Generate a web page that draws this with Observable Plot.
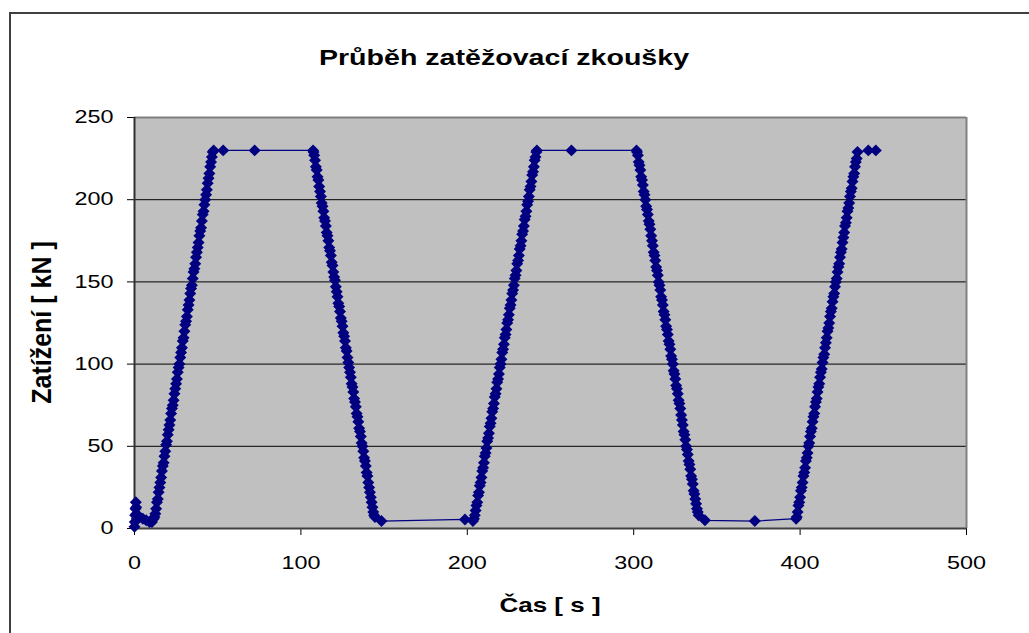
<!DOCTYPE html>
<html>
<head>
<meta charset="utf-8">
<script src="https://cdn.jsdelivr.net/npm/d3@7"></script>
<script src="https://cdn.jsdelivr.net/npm/@observablehq/plot@0.6"></script>
<style>
  html, body { margin: 0; padding: 0; background: #fff; }
  #wrap { position: relative; width: 1029px; height: 633px; overflow: hidden; background: #fff; }
  #border { position: absolute; left: 9px; top: 12px; width: 1100px; height: 700px; border: 2px solid #404040; box-sizing: border-box; }
  #chart { position: absolute; left: 0; top: 0; }
</style>
</head>
<body>
<div id="wrap"><div id="border"></div><div id="chart"></div></div>
<script>
// ---- Texts ----
const chartTitle = "Průběh zatěžovací zkoušky";
const xTitle = "Čas [ s ]";
const yTitle = "Zatížení [ kN ]";

// ---- Axis ticks ----
const xTicks = [0, 100, 200, 300, 400, 500];
const yTicks = [0, 50, 100, 150, 200, 250];
const gridY = [50, 100, 150, 200];

// ---- Series: [time s, load kN] ----
const start = [[0,1],[0.2,4],[0.4,8],[0.6,12],[0.8,16],[1.0,13],[1.2,9],[1.4,6],[5,6],[7,5],[9,4],[10.5,4],[11.5,6]];
const rise1 = [[12,7],[12.5,9],[13,12],[13.5,16],[14,18],[14.5,22],[15,25],[15.5,28],[16,31],[16.5,35],[17,38],[17.5,40],[18,44],[18.5,47],[19,51],[19.5,53],[20,57],[20.5,60],[21,63],[21.5,66],[22,70],[22.5,73],[23,75],[23.5,78],[24,82],[24.5,85],[25,88],[25.5,91],[26,95],[26.5,98],[27,100],[27.5,104],[28,107],[28.5,110],[29,114],[29.5,116],[30,120],[30.5,124],[31,126],[31.5,129],[32,133],[32.5,136],[33,139],[33.5,143],[34,146],[34.5,148],[35,152],[35.5,156],[36,158],[36.5,161],[37,165],[37.5,168],[38,171],[38.5,174],[39,178],[39.5,181],[40,183],[40.5,187],[41,191],[41.5,193],[42,197],[42.5,200],[43,203],[43.5,206],[44,210],[44.5,213],[45,216],[45.5,220],[46,223],[46.5,226],[47,229]];
const hold1 = [[47.6,230],[53.3,230],[72.2,230],[107.3,230]];
const fall1 = [[107.6,229],[108,227],[108.5,224],[109,220],[109.5,218],[110,214],[110.5,212],[111,208],[111.5,205],[112,202],[112.5,198],[113,196],[113.5,193],[114,189],[114.5,187],[115,184],[115.5,180],[116,178],[116.5,175],[117,171],[117.5,169],[118,166],[118.5,162],[119,160],[119.5,156],[120,153],[120.5,151],[121,147],[121.5,144],[122,141],[122.5,137],[123,135],[123.5,132],[124,128],[124.5,126],[125,123],[125.5,119],[126,117],[126.5,114],[127,110],[127.5,108],[128,104],[128.5,101],[129,98],[129.5,95],[130,92],[130.5,88],[131,86],[131.5,83],[132,79],[132.5,77],[133,74],[133.5,70],[134,68],[134.5,65],[135,61],[135.5,59],[136,56],[136.5,52],[137,50],[137.5,47],[138,43],[138.5,41],[139,38],[139.5,34],[140,32],[140.5,28],[141,25],[141.5,22],[142,19],[142.5,16],[143,13],[143.5,10],[144,8],[144.5,7]];
const rest1 = [[148.4,4.5],[198.6,5.5]];
const rise2 = [[203.4,4.5],[204,6],[204.5,8],[205,11],[205.5,14],[206,16],[206.5,20],[207,22],[207.5,26],[208,28],[208.5,31],[209,35],[209.5,37],[210,40],[210.5,44],[211,46],[211.5,49],[212,53],[212.5,55],[213,58],[213.5,62],[214,64],[214.5,67],[215,71],[215.5,73],[216,76],[216.5,80],[217,82],[217.5,85],[218,89],[218.5,91],[219,94],[219.5,98],[220,100],[220.5,103],[221,107],[221.5,109],[222,112],[222.5,116],[223,118],[223.5,121],[224,125],[224.5,127],[225,130],[225.5,134],[226,136],[226.5,139],[227,143],[227.5,145],[228,148],[228.5,152],[229,154],[229.5,157],[230,161],[230.5,163],[231,166],[231.5,170],[232,172],[232.5,175],[233,179],[233.5,181],[234,184],[234.5,188],[235,190],[235.5,193],[236,197],[236.5,199],[237,202],[237.5,206],[238,208],[238.5,211],[239,215],[239.5,217],[240,220],[240.5,224],[241,226],[241.5,229]];
const hold2 = [[241.8,230],[262.6,230],[301.7,230]];
const fall2 = [[302,229],[302.5,227],[303,223],[303.5,221],[304,218],[304.5,214],[305,212],[305.5,209],[306,205],[306.5,203],[307,200],[307.5,196],[308,194],[308.5,191],[309,187],[309.5,185],[310,182],[310.5,178],[311,175],[311.5,172],[312,168],[312.5,166],[313,163],[313.5,159],[314,157],[314.5,154],[315,150],[315.5,148],[316,145],[316.5,141],[317,139],[317.5,136],[318,132],[318.5,130],[319,127],[319.5,123],[320,121],[320.5,118],[321,114],[321.5,112],[322,109],[322.5,105],[323,103],[323.5,100],[324,96],[324.5,94],[325,91],[325.5,87],[326,85],[326.5,82],[327,78],[327.5,76],[328,73],[328.5,69],[329,66],[329.5,63],[330,59],[330.5,57],[331,54],[331.5,50],[332,48],[332.5,45],[333,41],[333.5,39],[334,36],[334.5,32],[335,30],[335.5,27],[336,23],[336.5,21],[337,18],[337.5,15],[338,12],[338.5,10],[339,8]];
const rest2 = [[342.8,5],[372.8,4.5],[397.6,6]];
const rise3 = [[398,7],[398.5,10],[399,14],[399.5,16],[400,19],[400.5,23],[401,25],[401.5,28],[402,32],[402.5,34],[403,37],[403.5,41],[404,43],[404.5,46],[405,50],[405.5,52],[406,56],[406.5,59],[407,61],[407.5,65],[408,68],[408.5,70],[409,74],[409.5,77],[410,79],[410.5,83],[411,86],[411.5,88],[412,92],[412.5,95],[413,97],[413.5,101],[414,104],[414.5,106],[415,110],[415.5,113],[416,116],[416.5,120],[417,122],[417.5,125],[418,129],[418.5,132],[419,134],[419.5,138],[420,141],[420.5,143],[421,147],[421.5,150],[422,152],[422.5,156],[423,159],[423.5,161],[424,165],[424.5,168],[425,170],[425.5,174],[426,177],[426.5,180],[427,184],[427.5,186],[428,189],[428.5,193],[429,195],[429.5,198],[430,202],[430.5,205],[431,207],[431.5,211],[432,214],[432.5,216],[433,220],[433.5,223],[434,225],[434.5,229]];
const hold3 = [[441,230],[445.5,230]];

const segments = [start, rise1, hold1, fall1, rest1, rise2, hold2, fall2, rest2, rise3, hold3];
const data = segments.flat().map(([t, load]) => ({t, load}));

const navy = "#000080";
const font = "'Liberation Sans', Arial, sans-serif";
const SX = 1.3; // horizontal stretch of the reference's lettering

const W = 1029, H = 633;
const mL = 134, mR = 63, mT = 117, mB = 105;

const svg = Plot.plot({
  width: W, height: H,
  marginLeft: mL, marginRight: mR, marginTop: mT, marginBottom: mB,
  style: {fontFamily: font, fontSize: "18px", color: "#000", background: "transparent", overflow: "visible"},
  x: {domain: [0, 500], ticks: xTicks, tickSize: 7, tickPadding: 21, label: null, tickFormat: d => String(d)},
  y: {domain: [0, 250], ticks: yTicks, tickSize: 7, tickPadding: 14, label: null, tickFormat: d => String(d)},
  marks: [
    Plot.frame({fill: "#c0c0c0", stroke: null}),
    Plot.ruleY(gridY, {stroke: "#000", strokeWidth: 1}),
    Plot.ruleY([250], {stroke: "#808080", strokeWidth: 2}),
    Plot.ruleX([500], {stroke: "#808080", strokeWidth: 2}),
    Plot.ruleX([0], {stroke: "#303030", strokeWidth: 2}),
    Plot.ruleY([0], {stroke: "#404040", strokeWidth: 2}),
    Plot.line(data, {x: "t", y: "load", stroke: navy, strokeWidth: 1.2}),
    Plot.dot(data, {x: "t", y: "load", symbol: "diamond2", r: 5.4, fill: navy, stroke: null})
  ]
});
document.getElementById("chart").appendChild(svg);

// stretch tick labels horizontally like the reference (keeps their anchor point)
function stretchText(el, sx) {
  const t = el.getAttribute("transform") || "";
  const xa = el.getAttribute("x");
  let pre = "";
  if (xa != null && xa !== "" && isFinite(+xa)) { pre = `translate(${+xa},0)`; el.removeAttribute("x"); }
  el.setAttribute("transform", `${t} ${pre} scale(${sx},1)`.trim());
}
svg.querySelectorAll("text").forEach(el => stretchText(el, SX));

const s = d3.select(svg);
s.append("text")
  .attr("transform", `translate(504,65) scale(${SX},1)`)
  .attr("text-anchor", "middle")
  .style("font-family", font).style("font-weight", "bold").style("font-size", "22px")
  .attr("fill", "#000").text(chartTitle);
s.append("text")
  .attr("transform", `translate(${(mL + W - mR) / 2},612) scale(${SX},1)`)
  .attr("text-anchor", "middle")
  .style("font-family", font).style("font-weight", "bold").style("font-size", "20px")
  .attr("fill", "#000").text(xTitle);
s.append("text")
  .attr("transform", `translate(51,${(mT + H - mB) / 2}) scale(1.1,1) rotate(-90)`)
  .attr("text-anchor", "middle")
  .style("font-family", font).style("font-weight", "bold").style("font-size", "25px")
  .attr("fill", "#000").text(yTitle);
</script>
</body>
</html>
